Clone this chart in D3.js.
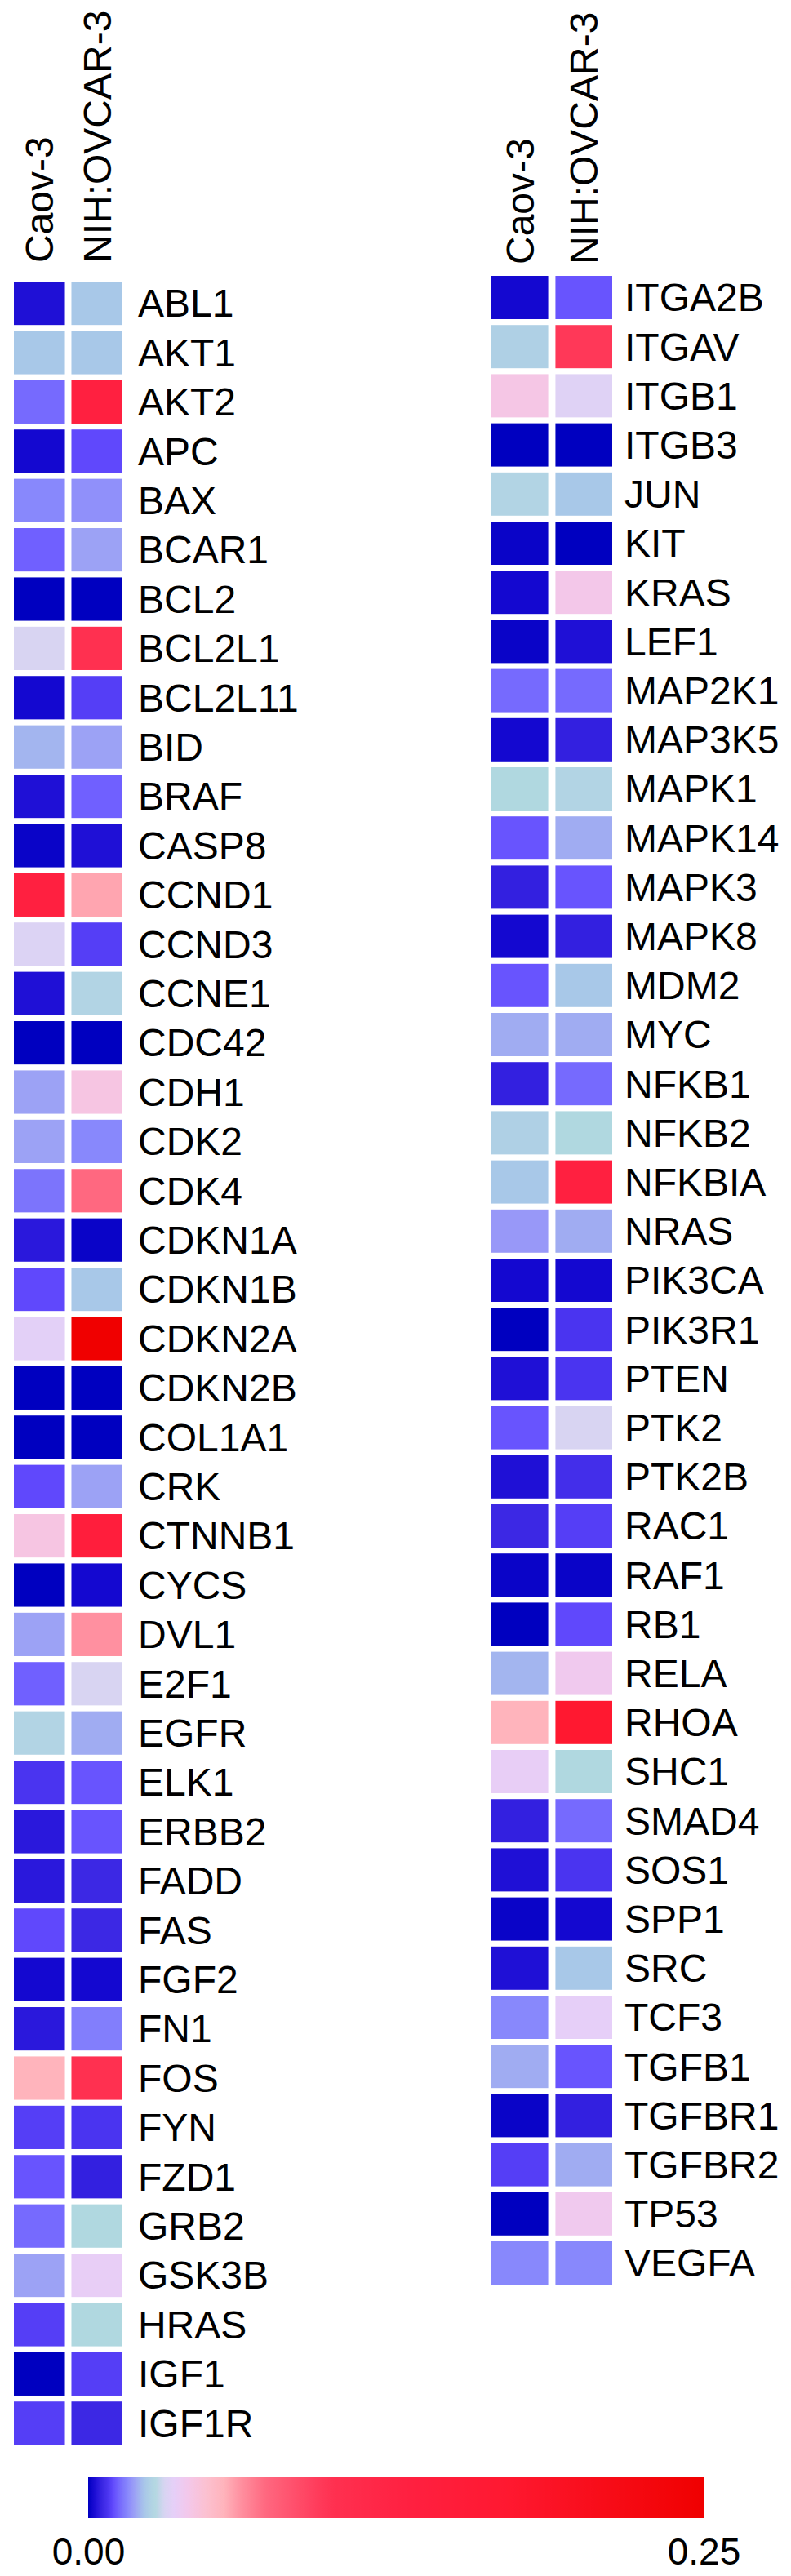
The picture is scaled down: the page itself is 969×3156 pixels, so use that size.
<!DOCTYPE html>
<html>
<head>
<meta charset="utf-8">
<script src="https://cdn.jsdelivr.net/npm/d3@7"></script>
<style>
  body { margin: 0; background: #fff; }
  text { font-family: "Liberation Sans", Arial, sans-serif; fill: #000; }
</style>
</head>
<body>
<script>
// cell lines (columns)
const cellLines = ["Caov-3", "NIH:OVCAR-3"];

// left panel genes
const genesLeft = ["ABL1","AKT1","AKT2","APC","BAX","BCAR1","BCL2","BCL2L1","BCL2L11","BID",
  "BRAF","CASP8","CCND1","CCND3","CCNE1","CDC42","CDH1","CDK2","CDK4","CDKN1A",
  "CDKN1B","CDKN2A","CDKN2B","COL1A1","CRK","CTNNB1","CYCS","DVL1","E2F1","EGFR",
  "ELK1","ERBB2","FADD","FAS","FGF2","FN1","FOS","FYN","FZD1","GRB2",
  "GSK3B","HRAS","IGF1","IGF1R"];
const caovLeft = [0.003,0.023,0.013,0.002,0.016,0.012,0.000,0.031,0.002,0.021,
  0.003,0.001,0.130,0.032,0.003,0.000,0.019,0.019,0.014,0.004,
  0.010,0.034,0.000,0.000,0.010,0.043,0.000,0.019,0.012,0.026,
  0.008,0.004,0.004,0.010,0.002,0.004,0.055,0.009,0.011,0.013,
  0.019,0.009,0.000,0.009];
const nihLeft = [0.023,0.023,0.130,0.010,0.017,0.019,0.000,0.100,0.009,0.019,
  0.012,0.003,0.058,0.009,0.026,0.000,0.043,0.016,0.072,0.001,
  0.023,0.250,0.000,0.000,0.019,0.140,0.002,0.062,0.031,0.020,
  0.011,0.011,0.006,0.006,0.002,0.015,0.100,0.008,0.005,0.027,
  0.036,0.027,0.009,0.006];

// right panel genes
const genesRight = ["ITGA2B","ITGAV","ITGB1","ITGB3","JUN","KIT","KRAS","LEF1","MAP2K1","MAP3K5",
  "MAPK1","MAPK14","MAPK3","MAPK8","MDM2","MYC","NFKB1","NFKB2","NFKBIA","NRAS",
  "PIK3CA","PIK3R1","PTEN","PTK2","PTK2B","RAC1","RAF1","RB1","RELA","RHOA",
  "SHC1","SMAD4","SOS1","SPP1","SRC","TCF3","TGFB1","TGFBR1","TGFBR2","TP53",
  "VEGFA"];
const caovRight = [0.002,0.025,0.042,0.000,0.026,0.001,0.002,0.001,0.013,0.002,
  0.027,0.011,0.005,0.002,0.011,0.020,0.005,0.025,0.023,0.018,
  0.002,0.000,0.003,0.011,0.003,0.006,0.001,0.000,0.021,0.055,
  0.036,0.005,0.003,0.001,0.003,0.016,0.020,0.001,0.009,0.000,
  0.016];
const nihRight = [0.011,0.095,0.033,0.000,0.023,0.000,0.041,0.003,0.013,0.005,
  0.026,0.020,0.011,0.005,0.023,0.020,0.013,0.027,0.130,0.020,
  0.002,0.008,0.008,0.031,0.007,0.009,0.001,0.010,0.039,0.170,
  0.027,0.013,0.008,0.002,0.023,0.035,0.011,0.005,0.020,0.039,
  0.016];

// colour scale (0.00 - 0.25)
const stopValues = [0,0.002,0.004,0.006,0.008,0.010,0.012,0.014,0.016,0.018,0.020,0.023,0.026,0.027,
  0.031,0.035,0.040,0.048,0.055,0.062,0.072,0.095,0.10,0.13,0.17,0.25];
const stopColors = ["#0000c0","#1408d0","#2a18dc","#3c28e4","#4a34f0","#6048fc","#7060ff","#7c74fc",
  "#8888fc","#9898f8","#a0acf2","#a8c8e8","#b2d4e4","#b0d8e0","#d8d4f2","#e6cff8","#f2c8ec","#fcc0d0",
  "#ffb4bc","#ff90a0","#ff6880","#ff3858","#ff3050","#ff2040","#ff1830","#f00000"];

const width = 969, height = 3156;
const fs = 48;

const color = d3.scaleLinear().domain(stopValues).range(stopColors).clamp(true);

const svg = d3.select("body").append("svg")
  .attr("width", width).attr("height", height)
  .style("display", "block");

function panel(genes, caov, nih, opt) {
  const rows = genes.map((g, i) => ({gene: g, values: [caov[i], nih[i]]}));

  const x = d3.scaleBand().domain(cellLines).range(opt.xRange).paddingInner(0.113);
  const y = d3.scaleBand().domain(genes)
    .range([opt.top, opt.top + genes.length * opt.step])
    .paddingInner(0.12).paddingOuter(0.06);

  const g = svg.append("g");

  // cells
  g.selectAll("g.row").data(rows).join("g")
    .attr("class", "row")
    .selectAll("rect").data(d => d.values.map((v, j) => ({gene: d.gene, line: cellLines[j], v})))
    .join("rect")
      .attr("x", d => x(d.line))
      .attr("y", d => y(d.gene))
      .attr("width", x.bandwidth())
      .attr("height", y.bandwidth())
      .attr("fill", d => color(d.v));

  // gene labels
  g.append("g")
    .attr("transform", `translate(${opt.xRange[1]},0)`)
    .call(d3.axisRight(y).tickSize(0).tickPadding(opt.labelPad))
    .call(a => a.select(".domain").remove())
    .call(a => a.selectAll("text")
      .attr("dy", "0.35em")
      .style("font-size", fs + "px")
      .style("font-family", '"Liberation Sans", Arial, sans-serif')
      .attr("fill", "#000"));

  // column headers, rotated
  g.selectAll("text.head").data(cellLines).join("text")
    .attr("class", "head")
    .attr("transform", d => `translate(${x(d) + x.bandwidth() / 2 + fs * 0.35},${opt.headBottom}) rotate(-90)`)
    .attr("font-size", fs)
    .text(d => d);
}

panel(genesLeft, caovLeft, nihLeft, {xRange: [17, 150], top: 341.4, step: 60.4, labelPad: 19, headBottom: 322});
panel(genesRight, caovRight, nihRight, {xRange: [602, 750], top: 334.4, step: 60.2, labelPad: 15, headBottom: 324});

// colour bar
const cb = {x0: 108, x1: 862, y: 3035, h: 50};
const defs = svg.append("defs");
const grad = defs.append("linearGradient").attr("id", "cbar")
  .attr("x1", "0%").attr("x2", "100%").attr("y1", "0%").attr("y2", "0%");
const cbScale = d3.scaleLinear().domain([0, 0.25]).range([cb.x0, cb.x1]);
grad.selectAll("stop").data(d3.range(0, 1.0001, 0.005)).join("stop")
  .attr("offset", d => (d * 100) + "%")
  .attr("stop-color", d => color(d * 0.25));

svg.append("rect")
  .attr("x", cb.x0).attr("y", cb.y)
  .attr("width", cb.x1 - cb.x0).attr("height", cb.h)
  .attr("fill", "url(#cbar)");

svg.append("g")
  .attr("transform", `translate(0,${cb.y + cb.h})`)
  .call(d3.axisBottom(cbScale).tickValues([0, 0.25]).tickFormat(d3.format(".2f")).tickSize(0).tickPadding(24))
  .call(a => a.select(".domain").remove())
  .call(a => a.selectAll("text")
    .style("font-size", "46px")
    .style("font-family", '"Liberation Sans", Arial, sans-serif')
    .attr("fill", "#000"));
</script>
</body>
</html>
